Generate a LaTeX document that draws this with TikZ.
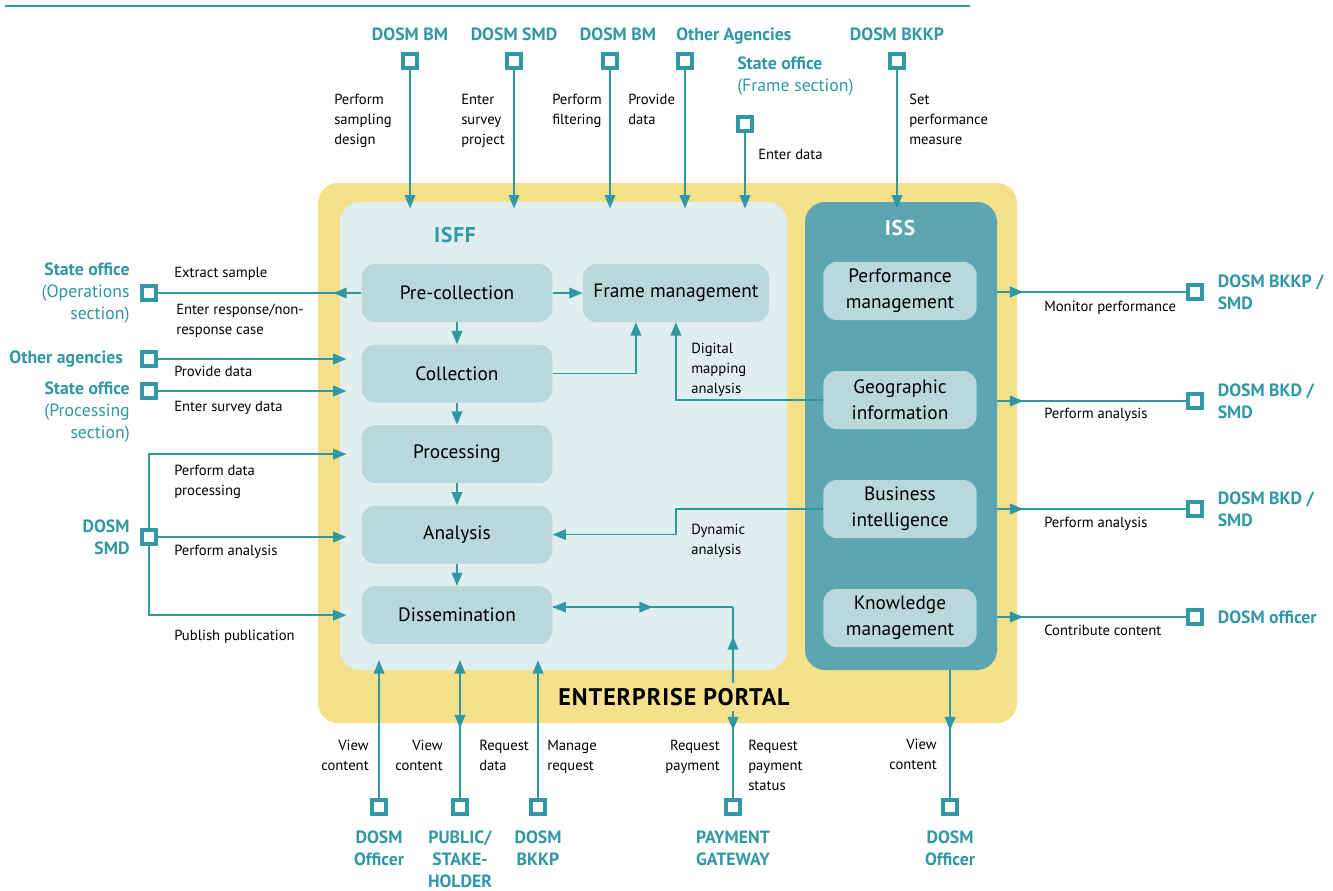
\documentclass[tikz,border=0pt]{standalone}
\usepackage{fontspec}
\setmainfont{PT Sans}
\usetikzlibrary{arrows.meta,positioning,fit,backgrounds}
\definecolor{dosmteal}{HTML}{3097A4}
\definecolor{issteal}{HTML}{5CA6B1}
\definecolor{procfill}{HTML}{BAD8DC}
\definecolor{isffpane}{HTML}{E1EEF0}
\definecolor{portal}{HTML}{F5E08C}

\begin{document}
\begin{tikzpicture}[
  x=0.75pt,y=-0.75pt,
  font=\fontsize{11}{15}\selectfont,
  proc/.style={fill=procfill,rounded corners=10pt,align=center,minimum width=143pt,minimum height=43.5pt,inner sep=2pt,font=\fontsize{14.5}{19.5}\selectfont},
  isbox/.style={proc,minimum width=115pt},
  actor/.style={draw=dosmteal,line width=2.8pt,fill=white,minimum size=11pt,inner sep=0pt},
  who/.style={text=dosmteal,font=\fontsize{13.3}{16.5}\selectfont\bfseries,inner sep=0pt},
  note/.style={inner sep=0pt,align=left},
  title/.style={font=\fontsize{16}{18}\selectfont\bfseries\addfontfeatures{LetterSpace=4}},
  arr/.style={-{Triangle[length=10pt,width=8pt]},dosmteal,line width=1.2pt},
  link/.style={dosmteal,line width=1.2pt}]
  \useasboundingbox (0,0) rectangle (1333,890);
  \draw[dosmteal,line width=0.8pt] (5,6) -- (970,6);
  \fill[portal,rounded corners=15pt] (318,183) rectangle (1017,723);
  \node[fill=isffpane,rounded corners=15pt,inner sep=0pt,fit={(340,202) (787,670)}] (isff) {};
  \node[fill=issteal,rounded corners=15pt,inner sep=0pt,fit={(805,202) (997,670)}] (iss) {};
  \node[title,text=dosmteal] (isfft) at (455,235) {ISFF};
  \node[title,text=white] (isst) at (900,228) {ISS};

  \node[proc] (preco) at (457,293) {Pre-collection};
  \node[proc,below=16.5pt of preco] (coll) {Collection};
  \node[proc,below=16.5pt of coll] (procs) {Processing};
  \node[proc,below=16.5pt of procs] (anal) {Analysis};
  \node[proc,below=16.5pt of anal] (diss) {Dissemination};
  \node[proc,minimum width=139.5pt,right=22.5pt of preco] (frame) {Frame management};
  \node[isbox] (perf) at (900,291) {Performance\\management};
  \node[isbox] (geo) at (900,400) {Geographic\\information};
  \node[isbox] (bi) at (900,509) {Business\\intelligence};
  \node[isbox] (km) at (900,618) {Knowledge\\management};

  \node[actor] (bmA) at (410,61) {};
  \node[actor] (smdA) at (514,61) {};
  \node[actor] (bmB) at (610,61) {};
  \node[actor] (oagA) at (685,61) {};
  \node[actor] (sofA) at (745,124) {};
  \node[actor] (bkkpA) at (897,61) {};
  \node[who,above=8pt of bmA] {DOSM BM};
  \node[who,above=8pt of smdA] {DOSM SMD};
  \node[who,above=8pt of bmB,xshift=6pt] {DOSM BM};
  \node[who,text depth=0pt,anchor=south west] at (676,41) {Other Agencies};
  \node[who,above=8pt of bkkpA] {DOSM BKKP};
  \node[who,align=left,anchor=north west] at (737,57) {State office\\\mdseries(Frame section)};

  \node[actor] (soOp) at (149,293) {};
  \node[actor] (oagL) at (149,359) {};
  \node[actor] (soPr) at (149,391) {};
  \node[actor] (smdL) at (149,537) {};
  \node[who,align=right,left=7.5pt of soOp] {State office\\\mdseries(Operations\\\mdseries section)};
  \node[who,left=12.5pt of oagL] {Other agencies};
  \node[who,align=right,anchor=north east] at (130,382) {State office\\\mdseries(Processing\\\mdseries section)};
  \node[who,align=right,left=7.5pt of smdL] {DOSM\\SMD};

  \node[actor] (bkkpR) at (1195,292) {};
  \node[actor] (bkdA) at (1195,401) {};
  \node[actor] (bkdB) at (1195,509) {};
  \node[actor] (offR) at (1195,617) {};
  \node[who,align=left,right=10pt of bkkpR] {DOSM BKKP /\\SMD};
  \node[who,align=left,right=10pt of bkdA] {DOSM BKD /\\SMD};
  \node[who,align=left,right=10pt of bkdB] {DOSM BKD /\\SMD};
  \node[who,right=10pt of offR] {DOSM officer};

  \node[actor] (offA) at (379,807) {};
  \node[actor] (pubA) at (460,807) {};
  \node[actor] (bkkpB) at (538,807) {};
  \node[actor] (payA) at (733,807) {};
  \node[actor] (offB) at (950,807) {};
  \node[who,align=center,below=11pt of offA] {DOSM\\Officer};
  \node[who,align=center,below=11pt of pubA] {PUBLIC/\\STAKE-\\HOLDER};
  \node[who,align=center,below=11pt of bkkpB] {DOSM\\BKKP};
  \node[who,align=center,below=11pt of payA] {PAYMENT\\GATEWAY};
  \node[who,align=center,below=11pt of offB] {DOSM\\Officer};

  \draw[arr,shorten >=-5pt] (bmA) -- (bmA |- isff.north);
  \draw[arr,shorten >=-5pt] (smdA) -- (smdA |- isff.north);
  \draw[arr,shorten >=-5pt] (bmB) -- (bmB |- isff.north);
  \draw[arr,shorten >=-5pt] (oagA) -- (oagA |- isff.north);
  \draw[arr,shorten >=-5pt] (sofA) -- (sofA |- isff.north);
  \draw[arr,shorten >=-5pt] (bkkpA) -- (bkkpA |- iss.north);

  \draw[link] (preco.west) -- (soOp);
  \draw[arr] (preco.west) -- +(-28,0);
  \draw[arr,shorten >=-5pt] (oagL) -- (oagL -| isff.west);
  \draw[arr,shorten >=-5pt] (soPr) -- (soPr -| isff.west);
  \draw[arr,shorten >=-5pt] (smdL.north) |- (procs.west -| isff.west);
  \draw[arr,shorten >=-5pt] (smdL) -- (smdL -| isff.west);
  \draw[arr,shorten >=-5pt] (smdL.south) |- (diss.west -| isff.west);

  \draw[arr] (preco) -- (frame);
  \draw[arr] (preco) -- (coll);
  \draw[arr] (coll) -- (procs);
  \draw[arr] (procs) -- (anal);
  \draw[arr] (anal) -- (diss);
  \draw[arr] (coll.east) -| ([xshift=-30pt]frame.south);
  \draw[arr] (geo.west) -| (frame.south);
  \draw[arr] (bi.west) -- (bi.west -| frame.south) |- (anal.east);

  \draw[link] (bkkpR -| iss.east) -- (bkkpR);
  \draw[arr] (bkkpR -| iss.east) -- +(26,0);
  \draw[link] (bkdA -| iss.east) -- (bkdA);
  \draw[arr] (bkdA -| iss.east) -- +(26,0);
  \draw[link] (bkdB -| iss.east) -- (bkdB);
  \draw[arr] (bkdB -| iss.east) -- +(26,0);
  \draw[link] (offR -| iss.east) -- (offR);
  \draw[arr] (offR -| iss.east) -- +(26,0);

  \coordinate (payturn) at ([yshift=6pt]diss.east -| payA);
  \draw[arr] (payturn) -- ([yshift=6pt]diss.east);
  \draw[arr] ([yshift=6pt]diss.east) -- +(100,0);
  \draw[link] (payturn) -- (payA);
  \draw[arr] (payA |- isff.south) -- +(0,-34);
  \draw[arr] (payA |- isff.south) -- +(0,60);
  \draw[arr,shorten >=-7.5pt] (offA) -- (offA |- isff.south);
  \draw[arr,shorten >=-7.5pt] (pubA) -- (pubA |- isff.south);
  \draw[arr] (pubA |- isff.south) -- +(0,58);
  \draw[arr,shorten >=-7.5pt] (bkkpB) -- (bkkpB |- isff.south);
  \draw[link] (iss.south -| offB) -- (offB);
  \draw[arr] (iss.south -| offB) -- +(0,60);

  \node[title,font=\fontsize{18}{20}\selectfont\bfseries\addfontfeatures{LetterSpace=4},fill=portal,inner sep=4pt] (portalt) at (674,697) {ENTERPRISE PORTAL};

  \node[note,anchor=north west] at (334,94) {Perform\\sampling\\design};
  \node[note,anchor=north west] at (461,94) {Enter\\survey\\project};
  \node[note,anchor=north west] at (552,94) {Perform\\filtering};
  \node[note,anchor=north west] at (628,94) {Provide\\data};
  \node[note,anchor=north west] at (758,149) {Enter data};
  \node[note,anchor=north west] at (909,94) {Set\\performance\\measure};
  \node[note,anchor=north west] at (174,267) {Extract sample};
  \node[note,anchor=north west] at (176,304) {Enter response/non-\\response case};
  \node[note,anchor=north west] at (174,366) {Provide data};
  \node[note,anchor=north west] at (174,401) {Enter survey data};
  \node[note,anchor=north west] at (174,465) {Perform data\\processing};
  \node[note,anchor=north west] at (174,545) {Perform analysis};
  \node[note,anchor=north west] at (174,630) {Publish publication};
  \node[note,anchor=north west] at (691,343) {Digital\\mapping\\analysis};
  \node[note,anchor=north west] at (691,524) {Dynamic\\analysis};
  \node[note,anchor=north west] at (1044,301) {Monitor performance};
  \node[note,anchor=north west] at (1044,408) {Perform analysis};
  \node[note,anchor=north west] at (1044,517) {Perform analysis};
  \node[note,anchor=north west] at (1044,625) {Contribute content};
  \node[note,align=right,anchor=north east] at (369,740) {View\\content};
  \node[note,align=right,anchor=north east] at (443,740) {View\\content};
  \node[note,anchor=north west] at (479,740) {Request\\data};
  \node[note,anchor=north west] at (547,740) {Manage\\request};
  \node[note,align=right,anchor=north east] at (720,740) {Request\\payment};
  \node[note,anchor=north west] at (748,740) {Request\\payment\\status};
  \node[note,align=right,anchor=north east] at (937,739) {View\\content};
\end{tikzpicture}
\end{document}
